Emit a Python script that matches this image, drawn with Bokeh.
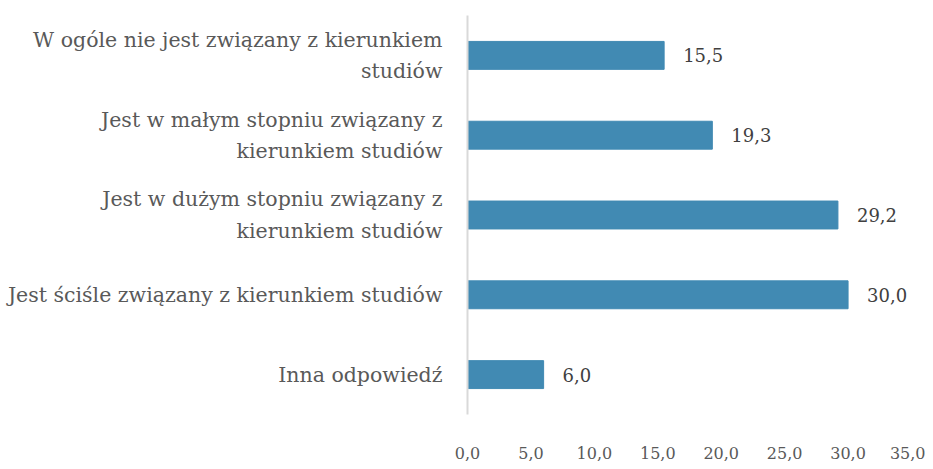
from bokeh.plotting import figure
from bokeh.models import FactorRange, Range1d, FixedTicker, ColumnDataSource
from bokeh.core.properties import value
from bokeh.embed import file_html
from bokeh.resources import INLINE

categories = [
    "W ogóle nie jest związany z kierunkiem\nstudiów",
    "Jest w małym stopniu związany z\nkierunkiem studiów",
    "Jest w dużym stopniu związany z\nkierunkiem studiów",
    "Jest ściśle związany z kierunkiem studiów",
    "Inna odpowiedź",
]
values = [15.5, 19.3, 29.2, 30.0, 6.0]
tick_values = [0, 5, 10, 15, 20, 25, 30, 35]
tick_labels = ["0,0", "5,0", "10,0", "15,0", "20,0", "25,0", "30,0", "35,0"]

FONT = "DejaVu Serif"
BAR = "#418ab3"

labels = [f"{v:.1f}".replace(".", ",") for v in values]
src = ColumnDataSource(dict(cat=categories, val=values, lab=labels))

p = figure(
    width=925, height=461,
    y_range=FactorRange(factors=list(reversed(categories)), range_padding=0),
    x_range=Range1d(0, 35),
    output_backend="svg", toolbar_location=None,
    min_border_left=467, min_border_right=14, min_border_top=15, min_border_bottom=36,
)
p.hbar(y="cat", right="val", left=0, height=0.35, source=src, color=BAR)
p.text(x="val", y="cat", text="lab", source=src, x_offset=19,
       text_align="left", text_baseline="middle",
       text_font=value(FONT), text_font_size="18px", text_color="#404040")

p.grid.visible = False
p.outline_line_color = None
p.background_fill_color = "white"

xa = p.xaxis[0]
xa.ticker = FixedTicker(ticks=tick_values)
xa.major_label_overrides = {t: l for t, l in zip(tick_values, tick_labels)}
xa.axis_line_color = None
xa.major_tick_line_color = None
xa.minor_tick_line_color = None
xa.major_label_standoff = 26
xa.major_label_text_font = FONT
xa.major_label_text_font_size = "16px"
xa.major_label_text_color = "#595959"

ya = p.yaxis[0]
ya.axis_line_color = "#d9d9d9"
ya.axis_line_width = 2
ya.major_tick_line_color = None
ya.minor_tick_line_color = None
ya.major_label_standoff = 19
ya.major_label_text_font = FONT
ya.major_label_text_font_size = "20.5px"
ya.major_label_text_line_height = 1.3
ya.major_label_text_color = "#595959"

open("out.html", "w").write(file_html(p, INLINE))
